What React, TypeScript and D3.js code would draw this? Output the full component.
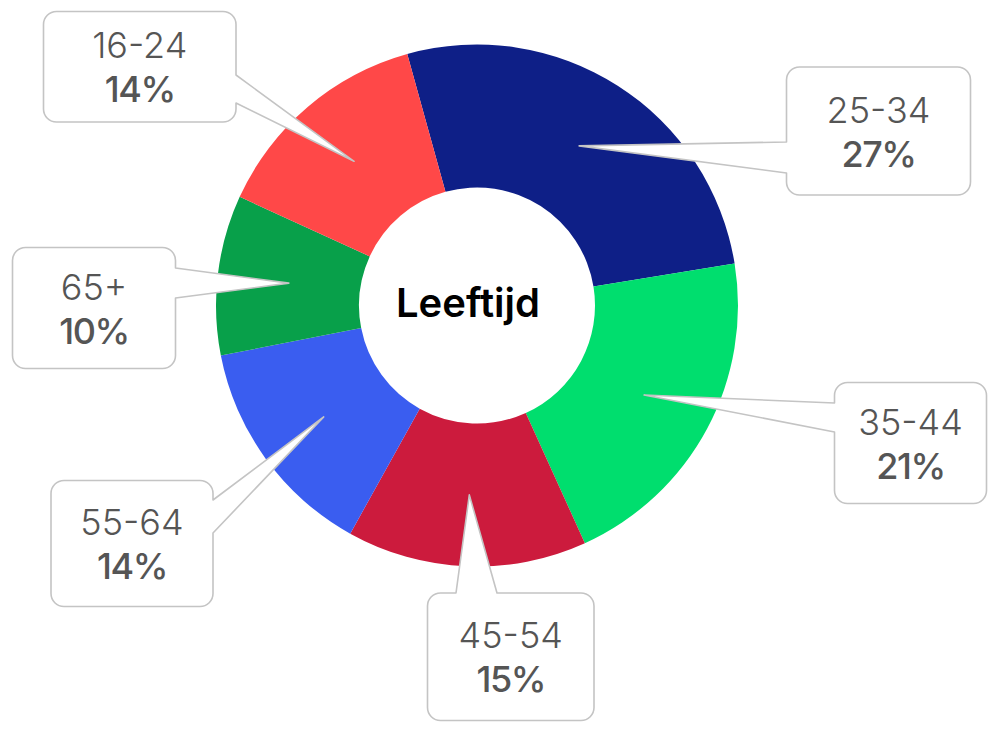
import React from "react";
import * as d3 from "d3";

const categories = ["25-34", "35-44", "45-54", "55-64", "65+", "16-24"];
const shares = [27, 21, 15, 14, 10, 14];
const sliceColors = ["#0E1F87", "#00DE6E", "#CC1B3D", "#3A5DF0", "#08A04A", "#FF4848"];
const centerTitle = "Leeftijd";

// callout layout (annotation placement only)
type Side = "left" | "right" | "top" | "bottom";
const calloutBoxes = [
  { x: 786.5, y: 67, w: 184, h: 128, side: "left" as Side, a: 142, b: 173 },
  { x: 834.5, y: 382.5, w: 152, h: 121, side: "left" as Side, a: 403, b: 432 },
  { x: 427.5, y: 593, w: 166.5, h: 127.5, side: "top" as Side, a: 456, b: 497 },
  { x: 51, y: 480.5, w: 162, h: 126, side: "right" as Side, a: 500, b: 533 },
  { x: 12.5, y: 247.5, w: 163, h: 121, side: "right" as Side, a: 268, b: 298 },
  { x: 43.5, y: 11.5, w: 192.5, h: 110.5, side: "right" as Side, a: 75, b: 103 },
];

const W = 989;
const H = 730;
const CX = 477;
const CY = 305.5;
const R_OUT = 261;
const R_IN = 118;
const START = (-15.5 * Math.PI) / 180;

function calloutPath(
  b: { x: number; y: number; w: number; h: number; side: Side; a: number; b: number },
  tip: [number, number]
) {
  const r = 13;
  const x0 = b.x, y0 = b.y, x1 = b.x + b.w, y1 = b.y + b.h;
  const p = d3.path();
  p.moveTo(x0 + r, y0);
  if (b.side === "top") {
    p.lineTo(b.a, y0);
    p.lineTo(tip[0], tip[1]);
    p.lineTo(b.b, y0);
  }
  p.lineTo(x1 - r, y0);
  p.arcTo(x1, y0, x1, y0 + r, r);
  if (b.side === "right") {
    p.lineTo(x1, b.a);
    p.lineTo(tip[0], tip[1]);
    p.lineTo(x1, b.b);
  }
  p.lineTo(x1, y1 - r);
  p.arcTo(x1, y1, x1 - r, y1, r);
  if (b.side === "bottom") {
    p.lineTo(b.b, y1);
    p.lineTo(tip[0], tip[1]);
    p.lineTo(b.a, y1);
  }
  p.lineTo(x0 + r, y1);
  p.arcTo(x0, y1, x0, y1 - r, r);
  if (b.side === "left") {
    p.lineTo(x0, b.b);
    p.lineTo(tip[0], tip[1]);
    p.lineTo(x0, b.a);
  }
  p.lineTo(x0, y0 + r);
  p.arcTo(x0, y0, x0 + r, y0, r);
  p.closePath();
  return p.toString();
}

export default function App() {
  const pie = d3
    .pie<number>()
    .sort(null)
    .value((d) => d)
    .startAngle(START)
    .endAngle(START + 2 * Math.PI);
  const arcs = pie(shares);
  const arc = d3.arc<d3.PieArcDatum<number>>().innerRadius(R_IN).outerRadius(R_OUT);
  const font = "Inter, 'Open Sans', sans-serif";

  return (
    <svg
      width={W}
      height={H}
      style={{ position: "absolute", left: 0, top: 0, background: "#fff" }}
    >
      <g transform={`translate(${CX},${CY})`}>
        {arcs.map((a, i) => (
          <path key={i} d={arc(a) || ""} fill={sliceColors[i]} />
        ))}
      </g>
      {arcs.map((a, i) => {
        const c = arc.centroid(a);
        const tip: [number, number] = [c[0] + CX, c[1] + CY];
        const b = calloutBoxes[i];
        const cx = b.x + b.w / 2;
        const cy = b.y + b.h / 2;
        return (
          <g key={i}>
            <path
              d={calloutPath(b, tip)}
              fill="#fff"
              stroke="#C4C4C4"
              strokeWidth={1.6}
              strokeLinejoin="round"
            />
            <text
              x={cx}
              y={cy - 8.5}
              textAnchor="middle"
              fontFamily={font}
              fontSize={36}
              fontWeight={300}
              fill="#555"
            >
              {categories[i]}
            </text>
            <text
              x={cx}
              y={cy + 35.5}
              textAnchor="middle"
              fontFamily={font}
              fontSize={36}
              fontWeight={500}
              letterSpacing={-1.5}
              fill="#555"
            >
              {shares[i]}%
            </text>
          </g>
        );
      })}
      <text
        x={468}
        y={316.5}
        textAnchor="middle"
        fontFamily={font}
        fontSize={40}
        fontWeight={600}
        fill="#000"
      >
        {centerTitle}
      </text>
    </svg>
  );
}
